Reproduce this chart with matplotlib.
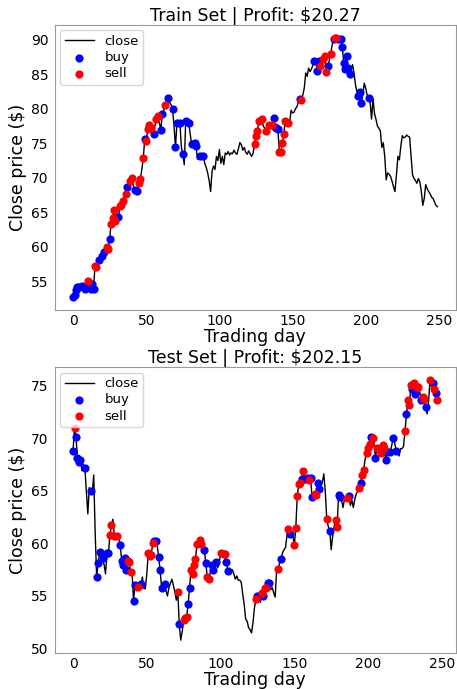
import matplotlib
matplotlib.use("Agg")
import matplotlib.pyplot as plt
import numpy as np

train_close = [
52.7,53.0,53.7,54.1,54.2,54.1,54.3,54.0,53.9,54.4,
55.0,54.2,53.9,54.6,53.9,57.2,57.1,57.6,58.1,58.2,
58.6,59.2,59.6,60.0,59.7,61.1,63.3,64.2,65.3,63.8,
64.0,64.3,65.9,66.1,66.7,67.2,67.7,68.6,68.4,69.6,
69.9,69.0,68.2,68.0,68.1,69.3,69.8,71.2,72.9,75.6,
75.3,77.0,77.6,77.2,77.0,76.3,77.6,78.5,79.0,78.0,
76.9,79.3,79.8,80.5,80.0,81.5,80.9,80.6,79.9,77.5,
74.4,78.0,77.9,78.0,74.5,73.4,71.9,78.3,77.6,78.0,
76.5,74.9,75.3,75.1,74.6,72.7,73.0,73.1,73.3,73.2,
72.1,71.5,70.7,69.6,68.0,71.0,71.7,71.2,73.1,72.5,
74.1,72.1,73.1,71.9,73.6,73.4,73.8,73.3,73.6,73.5,
74.0,73.6,73.4,74.2,75.1,74.8,74.0,74.4,73.7,73.4,
73.9,73.5,73.1,73.5,74.9,76.0,76.8,78.3,77.8,78.5,
77.5,77.2,76.8,77.3,77.6,77.5,77.6,78.7,77.3,77.2,
77.0,73.7,73.7,75.0,76.3,78.2,77.5,77.9,78.0,79.8,
79.4,79.5,80.0,80.3,81.0,81.4,81.3,82.0,83.0,85.2,
84.7,85.9,85.4,85.8,86.4,86.9,86.6,85.5,86.9,86.2,
86.6,87.2,87.6,85.3,86.2,86.9,87.9,89.2,90.1,90.3,
90.2,90.1,89.6,90.1,88.9,86.7,85.7,87.6,85.9,85.0,
85.7,86.4,85.2,83.5,82.5,81.9,82.5,80.9,82.0,83.7,
83.0,82.0,81.5,81.0,78.5,81.5,79.3,78.5,77.5,77.2,
76.8,74.4,75.1,73.1,69.7,70.7,70.5,70.2,69.5,68.7,
68.0,70.4,73.1,72.6,74.6,76.1,75.8,75.9,76.2,76.0,
75.9,73.1,70.4,69.9,69.6,69.2,69.9,69.4,68.0,66.0,
67.0,69.0,68.4,68.0,67.7,67.2,67.0,66.5,66.0,65.8]

train_buy = [0,1,2,3,4,6,8,11,12,13,14,18,20,21,25,31,37,42,44,49,55,60,61,65,68,70,71,73,75,77,79,81,83,84,87,89,
             137,138,139,140,155,165,167,168,174,178,181,183,184,185,186,187,188,189,195,196,197,202]
train_sell = [10,15,16,23,24,26,27,28,29,32,33,34,36,39,40,45,46,48,50,51,52,53,57,58,63,
              124,125,126,127,129,132,134,136,141,142,143,144,145,147,156,169,171,172,173,176,179,180]

test_close = [
68.8,71.0,70.1,68.1,67.7,67.9,66.9,67.5,67.2,65.0,
62.8,65.3,65.0,64.7,66.5,61.0,56.8,58.1,59.2,59.1,
58.6,58.0,57.1,59.1,59.1,60.8,61.7,62.3,60.7,60.6,
60.7,60.6,59.8,58.3,57.9,58.6,57.5,58.3,58.2,57.3,
57.3,54.5,56.0,55.5,55.9,55.6,56.1,56.8,55.7,55.7,
57.1,59.1,58.8,58.9,60.0,60.2,60.2,59.9,58.7,57.5,
55.8,56.0,56.1,55.5,55.0,55.8,56.2,56.6,56.0,55.4,
54.6,55.4,52.3,50.8,51.6,52.7,52.9,53.0,54.2,55.8,
57.5,57.1,57.9,58.5,59.9,60.0,60.3,59.9,59.7,59.4,
58.1,56.8,56.6,57.2,57.9,57.5,57.7,58.2,57.7,58.0,
59.1,59.0,59.0,59.0,58.2,57.4,57.6,57.3,57.5,57.1,
56.6,56.9,56.5,56.5,56.3,55.2,54.2,52.8,52.6,52.0,
51.8,51.5,52.5,53.9,54.7,55.0,55.0,54.4,55.3,55.0,
55.8,55.8,56.2,56.2,55.6,55.8,55.3,54.9,57.4,57.6,
58.1,58.5,59.1,59.4,59.6,60.7,61.4,60.9,60.8,60.7,
59.8,61.5,64.5,65.6,65.7,66.1,66.9,66.1,66.0,66.2,
66.0,66.2,64.4,64.8,64.7,64.6,65.7,65.2,65.5,65.8,
66.6,64.9,62.3,61.6,61.2,59.4,60.7,61.6,62.2,61.6,
64.6,64.4,64.1,63.4,64.2,64.0,64.3,64.5,63.6,64.1,
63.4,64.2,64.7,65.0,65.3,65.7,66.5,67.0,68.0,68.6,
69.1,69.4,70.1,70.0,69.8,68.1,69.1,69.3,69.1,68.6,
69.3,69.1,67.9,68.7,68.9,68.7,69.3,70.0,69.6,68.8,
69.0,68.3,69.0,69.0,69.2,70.7,72.3,73.6,73.1,75.0,
74.7,75.2,74.2,74.9,74.9,74.4,73.6,73.9,73.7,73.0,
72.3,73.5,75.5,75.4,75.2,74.7,74.3,73.6]

test_buy = [0,2,3,4,5,8,12,16,17,18,20,23,24,32,33,34,35,36,41,42,46,55,56,58,59,60,62,72,78,79,89,90,94,95,97,102,104,105,
            125,126,129,132,133,141,147,155,157,159,161,162,166,167,174,180,181,187,195,202,205,212,213,215,217,219,226,230,232,236,239,244,246]
test_sell = [1,25,26,28,30,37,38,39,44,51,52,53,54,71,75,76,77,80,81,82,83,84,86,87,91,92,100,103,
             124,128,130,131,139,146,150,151,152,153,154,156,160,164,165,172,178,179,186,194,196,197,199,200,201,203,206,209,210,211,
             225,227,228,229,231,233,234,237,238,242,245,247]

panels = [("Train Set | Profit: $20.27", train_close, train_buy, train_sell),
          ("Test Set | Profit: $202.15", test_close, test_buy, test_sell)]

fig = plt.figure(figsize=(4.57, 6.89), dpi=100)
rects = [[0.120, 0.550, 0.877, 0.414], [0.120, 0.052, 0.877, 0.415]]

for rect, (title, close, buys, sells) in zip(rects, panels):
    ax = fig.add_axes(rect)
    close = np.array(close)
    days = np.arange(len(close))
    ax.plot(days, close, color="black", lw=1.0, label="close")
    ax.scatter(np.array(buys), close[buys], color="blue", s=24, label="buy", zorder=3)
    ax.scatter(np.array(sells), close[sells], color="red", s=24, label="sell", zorder=3)
    ax.set_title(title, fontsize=12.5, pad=3)
    ax.set_xlabel("Trading day", fontsize=12.5, labelpad=0)
    ax.set_ylabel("Close price ($)", fontsize=12.5, labelpad=3)
    ax.tick_params(axis="x", labelsize=10, length=0, pad=3)
    ax.tick_params(axis="y", labelsize=10, length=0, pad=4.5)
    ax.set_xticks([0, 50, 100, 150, 200, 250])
    ax.legend(loc="upper left", fontsize=9.5, labelspacing=0.25, borderpad=0.35,
              handlelength=2.2, borderaxespad=0.4)
    for s in ax.spines.values():
        s.set_color("#999999")

fig.savefig("out.png", dpi=100)
